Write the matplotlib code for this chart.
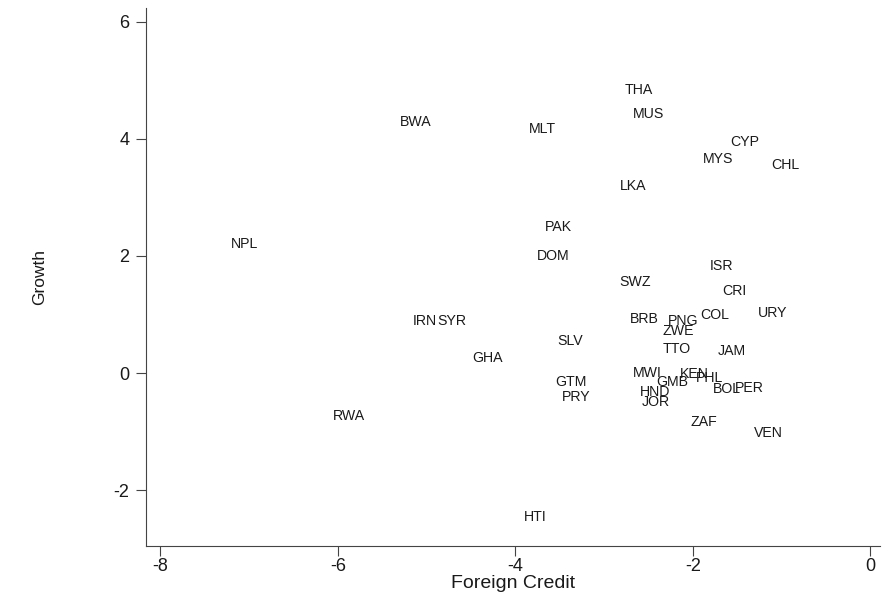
import matplotlib.pyplot as plt

plt.rcParams['font.family'] = ['Liberation Sans', 'DejaVu Sans']
plt.rcParams['axes.unicode_minus'] = False

# country codes with foreign credit (x) and growth (y)
countries = ["THA", "MUS", "MLT", "BWA", "CYP", "MYS", "CHL", "LKA", "PAK", "NPL",
             "DOM", "SWZ", "ISR", "CRI", "IRN", "SYR", "BRB", "PNG", "COL", "URY",
             "ZWE", "SLV", "GHA", "TTO", "JAM", "MWI", "KEN", "PHL", "GMB", "GTM",
             "BOL", "PER", "HND", "PRY", "JOR", "RWA", "ZAF", "VEN", "HTI"]
credit = [-2.77, -2.68, -3.85, -5.30, -1.58, -1.89, -1.12, -2.82, -3.67, -7.20,
          -3.76, -2.83, -1.81, -1.67, -5.15, -4.88, -2.71, -2.28, -1.92, -1.27,
          -2.34, -3.53, -4.48, -2.34, -1.72, -2.68, -2.15, -1.97, -2.41, -3.55,
          -1.77, -1.53, -2.60, -3.48, -2.58, -6.05, -2.03, -1.31, -3.90]
growth = [4.84, 4.42, 4.16, 4.28, 3.94, 3.66, 3.56, 3.20, 2.49, 2.20,
          2.00, 1.55, 1.83, 1.40, 0.89, 0.89, 0.92, 0.89, 1.00, 1.03,
          0.72, 0.55, 0.26, 0.42, 0.38, 0.00, -0.02, -0.08, -0.15, -0.15,
          -0.27, -0.25, -0.32, -0.41, -0.50, -0.73, -0.84, -1.02, -2.46]

fig = plt.figure(figsize=(8.82, 5.95), dpi=100)
ax = fig.add_axes([0.1655, 0.0824, 0.8325, 0.904])

for name, x, y in zip(countries, credit, growth):
    ax.text(x, y, name, ha="left", va="center", fontsize=10.2, color="#1a1a1a")

ax.set_xlim(-8.16, 0.11)
ax.set_ylim(-2.95, 6.23)
ax.set_xticks([-8, -6, -4, -2, 0])
ax.set_yticks([-2, 0, 2, 4, 6])
ax.spines["top"].set_visible(False)
ax.spines["right"].set_visible(False)
for s in ["left", "bottom"]:
    ax.spines[s].set_color("#444444")
ax.tick_params(direction="out", length=7, width=0.8, colors="#444444",
               labelcolor="#1a1a1a", labelsize=13)
ax.tick_params(axis="x", pad=2)
ax.tick_params(axis="y", pad=5)
ax.set_xlabel("Foreign Credit", fontsize=14, color="#1a1a1a", labelpad=0)
ax.set_ylabel("Growth", fontsize=12.5, color="#1a1a1a", labelpad=48)

fig.savefig("out.png", dpi=100)
